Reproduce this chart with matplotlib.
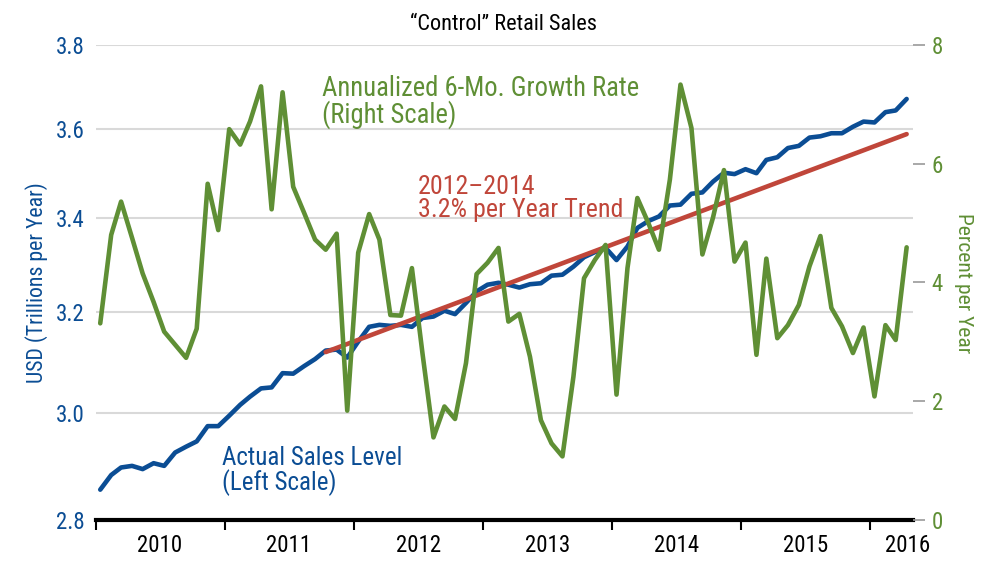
import numpy as np
import pandas as pd
import matplotlib
matplotlib.use('Agg')
import matplotlib.pyplot as plt
import matplotlib.dates as mdates
from matplotlib.ticker import FixedLocator, FixedFormatter, NullLocator

# the original uses a condensed face
plt.rcParams['font.family'] = ['Roboto Condensed', 'DejaVu Sans']
plt.rcParams['font.stretch'] = 'condensed'

BLUE = '#0b4d94'
GREEN = '#5f8f35'
RED = '#c0463a'
GRID = '#d9d9d9'

# Monthly data, Jan 2010 - Apr 2016
month_start = '2010-01-01'
n_months = 76

# "Control" retail sales level, USD trillions per year (left, log scale)
sales_level = [2.855, 2.882, 2.896, 2.899, 2.893, 2.904, 2.899, 2.924, 2.935, 2.945, 2.974, 2.974,
               2.994, 3.015, 3.031, 3.047, 3.049, 3.077, 3.076, 3.091, 3.105, 3.122, 3.124, 3.108,
               3.140, 3.170, 3.174, 3.172, 3.174, 3.170, 3.188, 3.191, 3.203, 3.196, 3.219, 3.243,
               3.257, 3.261, 3.257, 3.251, 3.258, 3.260, 3.276, 3.278, 3.295, 3.315, 3.326, 3.335,
               3.309, 3.338, 3.378, 3.393, 3.403, 3.427, 3.429, 3.453, 3.456, 3.480, 3.500, 3.497,
               3.508, 3.499, 3.529, 3.535, 3.556, 3.561, 3.580, 3.583, 3.590, 3.590, 3.605, 3.617,
               3.615, 3.639, 3.643, 3.670]

# Annualized 6-month growth rate, percent (right scale)
growth_rate = [3.31, 4.80, 5.36, 4.75, 4.15, 3.67, 3.17, 2.95, 2.73, 3.22, 5.66, 4.88,
               6.58, 6.32, 6.71, 7.30, 5.23, 7.20, 5.61, 5.17, 4.72, 4.55, 4.82, 1.84,
               4.50, 5.15, 4.72, 3.45, 3.44, 4.24, 2.80, 1.39, 1.91, 1.70, 2.64, 4.14,
               4.33, 4.58, 3.34, 3.47, 2.75, 1.68, 1.29, 1.07, 2.41, 4.07, 4.38, 4.63,
               2.11, 4.24, 5.42, 5.00, 4.55, 5.73, 7.33, 6.60, 4.47, 5.09, 5.89, 4.35,
               4.67, 2.78, 4.40, 3.06, 3.28, 3.62, 4.27, 4.78, 3.57, 3.26, 2.81, 3.24,
               2.08, 3.28, 3.03, 4.59]

# 3.2% per year trend line end points
trend_dates = ['2011-10-13', '2016-04-13']
trend_level = [3.119, 3.588]

left_ticks = [2.8, 3.0, 3.2, 3.4, 3.6, 3.8]
right_ticks = [0, 2, 4, 6, 8]
year_labels = ['2010', '2011', '2012', '2013', '2014', '2015', '2016']
label_dates = ['2010-07-01', '2011-07-01', '2012-07-01', '2013-07-01',
               '2014-07-01', '2015-07-01', '2016-04-15']

months = pd.date_range(month_start, periods=n_months, freq='MS') + pd.Timedelta(days=12)
x = mdates.date2num(months)

fig = plt.figure(figsize=(10, 5.67), dpi=100)
ax = fig.add_axes([0.096, 0.083, 0.817, 0.838])
ax2 = ax.twinx()

# left axis: sales level on log scale
ax.plot(x, sales_level, color=BLUE, lw=3.3, solid_joinstyle='round', solid_capstyle='round', zorder=3)
ax.plot(mdates.date2num(pd.to_datetime(trend_dates)), trend_level, color=RED, lw=3.3,
        solid_capstyle='round', zorder=4)
ax.set_yscale('log')
ax.set_ylim(2.8, 3.8)
ax.yaxis.set_major_locator(FixedLocator(left_ticks))
ax.yaxis.set_major_formatter(FixedFormatter([f'{t:.1f}' for t in left_ticks]))
ax.yaxis.set_minor_locator(NullLocator())
ax.tick_params(axis='y', length=0, pad=8, labelsize=16.5, labelcolor=BLUE)
ax.grid(axis='y', color=GRID, lw=1.5)
ax.set_axisbelow(True)

# x axis: years
ax.set_xlim(mdates.date2num(pd.Timestamp('2010-01-01')), mdates.date2num(pd.Timestamp('2016-05-01')))
year_starts = pd.date_range('2010-01-01', '2016-01-01', freq='YS')
ax.xaxis.set_major_locator(FixedLocator(mdates.date2num(year_starts)))
ax.xaxis.set_major_formatter(FixedFormatter([''] * len(year_starts)))
ax.xaxis.set_minor_locator(FixedLocator(mdates.date2num(pd.to_datetime(label_dates))))
ax.xaxis.set_minor_formatter(FixedFormatter(year_labels))
ax.tick_params(axis='x', which='major', length=7, width=1.5, color='black')
ax.tick_params(axis='x', which='minor', length=0, pad=10, labelsize=16.5)

for s in ['top', 'right', 'left']:
    ax.spines[s].set_visible(False)
ax.spines['bottom'].set_linewidth(3)

# right axis: growth rate
ax2.plot(x, growth_rate, color=GREEN, lw=3.3, solid_joinstyle='round', solid_capstyle='round')
ax2.set_ylim(0, 8)
ax2.set_yticks(right_ticks)
ax2.tick_params(axis='y', length=8.5, width=1.2, color='#999999', pad=5,
                labelsize=16.5, labelcolor=GREEN)
for s in ['top', 'right', 'left', 'bottom']:
    ax2.spines[s].set_visible(False)

# axis titles, title and annotations
texts = []
texts.append((fig.text(0.037, 1 - 283 / 567, 'USD (Trillions per Year)', color=BLUE, fontsize=17,
                       rotation=90, ha='center', va='center'), 201))
texts.append((fig.text(0.964, 1 - 283 / 567, 'Percent per Year', color=GREEN, fontsize=17,
                       rotation=270, ha='center', va='center'), 140))
texts.append((fig.text(0.503, 1 - 25 / 567, '\u201cControl\u201d Retail Sales', ha='center',
                       va='center', fontsize=17), 187))
texts.append((fig.text(0.322, 1 - 123 / 567, 'Annualized 6-Mo. Growth Rate\n(Right Scale)',
                       color=GREEN, fontsize=20, va='baseline', ha='left', linespacing=0.95), 316))
texts.append((fig.text(0.418, 1 - 217 / 567, '2012\u20132014\n3.2% per Year Trend', color=RED,
                       fontsize=20, va='baseline', ha='left', linespacing=0.95), 205))
texts.append((fig.text(0.222, 1 - 490 / 567, 'Actual Sales Level\n(Left Scale)', color=BLUE,
                       fontsize=20, va='baseline', ha='left', linespacing=0.95), 180))

# scale each label so it spans the same length as in the original
renderer = fig.canvas.get_renderer()
for t, span in texts:
    bb = t.get_window_extent(renderer)
    length = bb.height if t.get_rotation() in (90, 270) else bb.width
    t.set_fontsize(t.get_fontsize() * span / length)

fig.savefig('out.png', dpi=100)
